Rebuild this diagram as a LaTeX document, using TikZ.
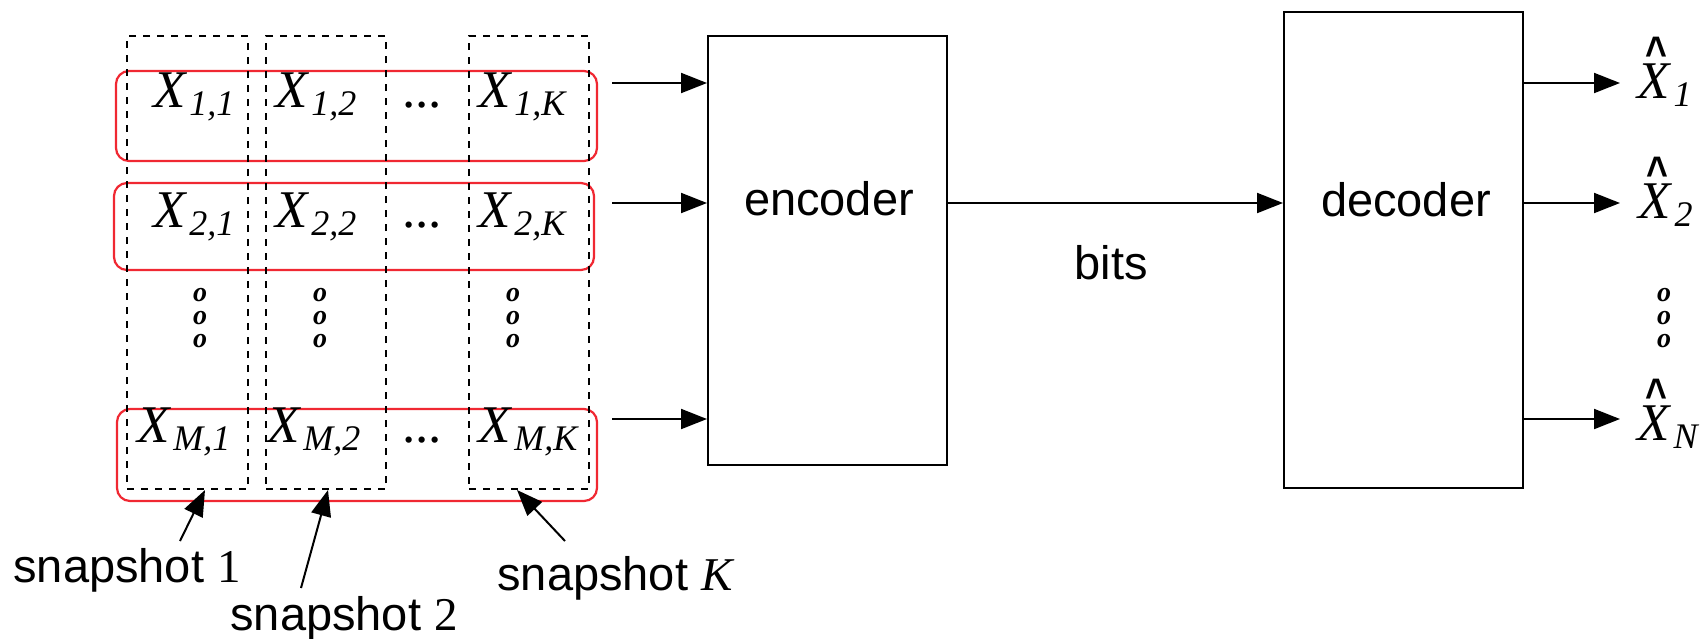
\documentclass[tikz,border=0pt]{standalone}
\usepackage{fontspec}
\usepackage{graphicx}
\setmainfont{Liberation Serif}
\setsansfont{Liberation Sans}
\usetikzlibrary{arrows.meta,fit}
\definecolor{rowred}{RGB}{240,40,50}

% X with an italic subscript, and the same with a hat on top
\newcommand\Xsub[1]{\textit{X}\kern1pt\raisebox{-4pt}{\fontsize{18}{18}\selectfont\textit{#1}}}
\newcommand\Xhat[1]{\rlap{\hspace{4pt}\raisebox{15pt}{\fontsize{24}{24}\selectfont\sffamily\bfseries\scalebox{0.78}[0.95]{\textasciicircum}}}\Xsub{#1}}

\begin{document}
\begin{tikzpicture}[x=0.5pt,y=-0.5pt,
  lab/.style={inner sep=0pt, anchor=base west, font=\fontsize{26.5}{26.5}\selectfont},
  sflab/.style={inner sep=0pt, anchor=base, font=\fontsize{23.5}{23.5}\selectfont\sffamily},
  snaplab/.style={inner sep=0pt, anchor=base west, font=\fontsize{23.5}{23.5}\selectfont\sffamily},
  rowbox/.style={draw=rowred, line width=1.1pt, rounded corners=6.5pt, inner sep=0pt},
  colbox/.style={draw=black, line width=1pt, dash pattern=on 3.5pt off 3.5pt, inner sep=0pt},
  block/.style={draw, line width=1pt, inner sep=0pt},
  arr/.style={line width=1pt, -{Triangle[length=13pt,width=10pt]}},
  odots/.style={inner sep=0pt, align=center, font=\fontsize{14}{11.5}\selectfont\bfseries\itshape}
]
\useasboundingbox (0,0) rectangle (1700,638);

% rows of the source matrix
\node[rowbox, fit={(116,71) (597,161)}] (row1) {};
\node[rowbox, fit={(114,183) (594,270)}] (row2) {};
\node[rowbox, fit={(117,409) (597,501)}] (rowM) {};

% snapshot columns
\node[colbox, fit={(127,36) (248,489)}] (col1) {};
\node[colbox, fit={(266,36) (386,489)}] (col2) {};
\node[colbox, fit={(469,36) (589,489)}] (colK) {};

% matrix entries
\node[lab] (x11) at (153,107) {\Xsub{1,1}};
\node[lab] (x12) at (275,107) {\Xsub{1,2}};
\node[lab] (x1d) at (402,107) {...};
\node[lab] (x1K) at (478,107) {\Xsub{1,K}};
\node[lab] (x21) at (153,227) {\Xsub{2,1}};
\node[lab] (x22) at (275,227) {\Xsub{2,2}};
\node[lab] (x2d) at (402,227) {...};
\node[lab] (x2K) at (478,227) {\Xsub{2,K}};
\node[lab] (xM1) at (137,442) {\Xsub{M,1}};
\node[lab] (xM2) at (267,442) {\Xsub{M,2}};
\node[lab] (xMd) at (402,442) {...};
\node[lab] (xMK) at (478,442) {\Xsub{M,K}};

% vertical continuation marks
\node[odots] (d1) at (200,318) {o\\o\\o};
\node[odots] (d2) at (320,318) {o\\o\\o};
\node[odots] (dK) at (513,318) {o\\o\\o};
\node[odots] (dout) at (1664,318) {o\\o\\o};

% encoder and decoder blocks
\node[block, fit={(708,36) (947,465)}] (enc) {};
\node[block, fit={(1284,12) (1523,488)}] (dec) {};
\node[sflab] (enctext) at (829,215) {encoder};
\node[sflab] (dectext) at (1406,216) {decoder};
\node[sflab] (bits) at (1111,279) {bits};

% inputs to the encoder
\coordinate (in1) at (612,83);
\coordinate (in2) at (612,203);
\coordinate (inM) at (612,419);
\draw[arr] (in1) -- (in1 -| enc.west);
\draw[arr] (in2) -- (in2 -| enc.west);
\draw[arr] (inM) -- (inM -| enc.west);

% channel
\coordinate (ch) at (0,203);
\draw[arr] (ch -| enc.east) -- (ch -| dec.west);

% decoder outputs
\coordinate (out1) at (1620,83);
\coordinate (out2) at (1620,203);
\coordinate (outN) at (1620,419);
\draw[arr] (out1 -| dec.east) -- (out1);
\draw[arr] (out2 -| dec.east) -- (out2);
\draw[arr] (outN -| dec.east) -- (outN);
\node[lab] (xh1) at (1637,98) {\Xhat{1}};
\node[lab] (xh2) at (1638,218) {\Xhat{2}};
\node[lab] (xhN) at (1637,440) {\Xhat{N}};

% snapshot labels and pointers
\node[snaplab] (s1) at (13,582) {snapshot {\rmfamily 1}};
\node[snaplab] (s2) at (230,630) {snapshot {\rmfamily 2}};
\node[snaplab] (sK) at (497,590) {snapshot {\rmfamily\itshape K}};
\coordinate (s1t) at (180,541);
\coordinate (s2t) at (301,588);
\coordinate (sKt) at (565,541);
\coordinate (c1p) at (205,490);
\coordinate (c2p) at (328,490);
\coordinate (cKp) at (517,490);
\draw[arr] (s1t) -- (c1p);
\draw[arr] (s2t) -- (c2p);
\draw[arr] (sKt) -- (cKp);
\end{tikzpicture}
\end{document}
